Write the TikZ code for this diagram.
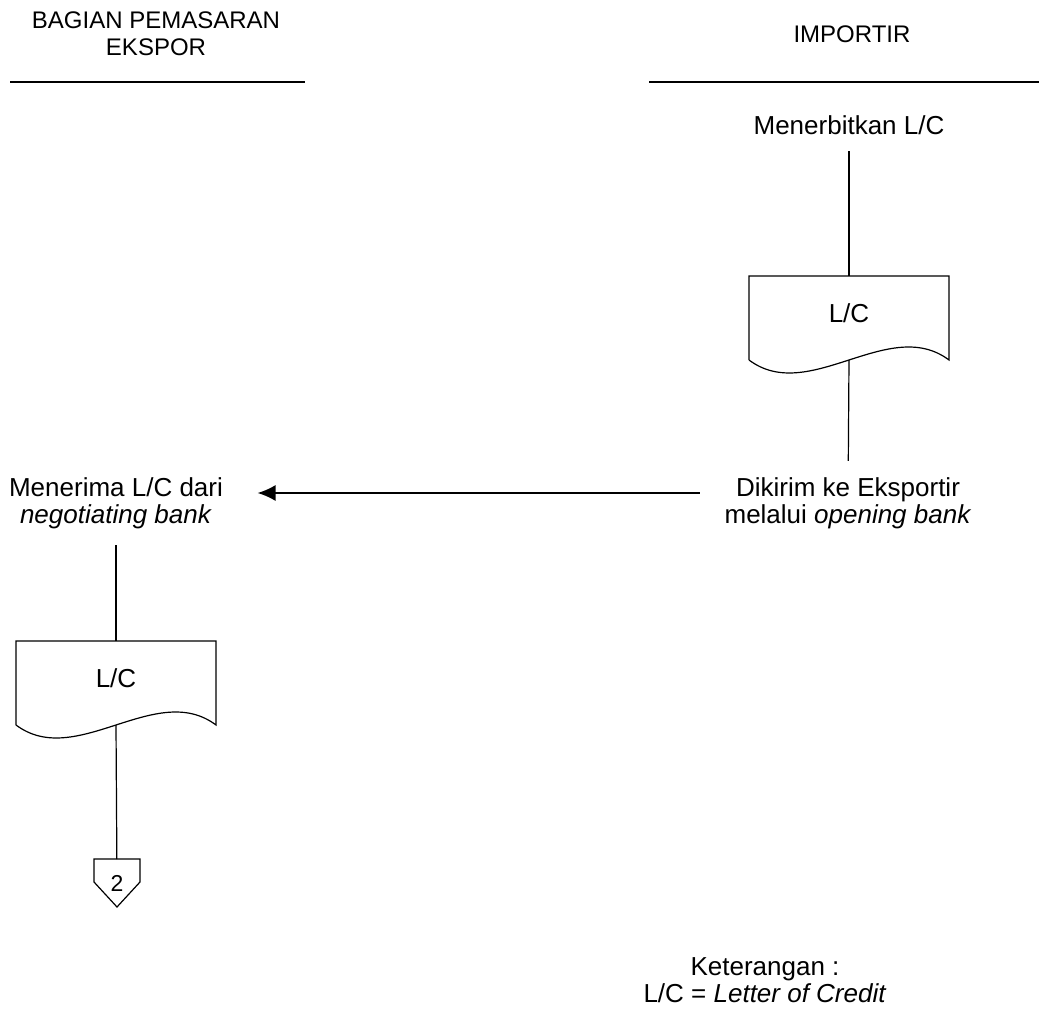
\documentclass[tikz,border=0pt]{standalone}
\usepackage{fontspec}
\setmainfont{Liberation Sans}
\usetikzlibrary{arrows.meta}

\begin{document}
\begin{tikzpicture}[
    x=0.5pt, y=-0.5pt,
    line width=0.6pt,
    every node/.style={font=\fontsize{13}{13.5}\selectfont},
    judul/.style={align=center, font=\fontsize{12}{13.5}\selectfont},
    teks/.style={align=center, inner xsep=12pt, inner ysep=8pt},
    dokumen/.style={minimum width=100pt, minimum height=42pt, inner sep=0pt, outer sep=0pt,
        text depth=5pt},
    konektor/.style={minimum width=23pt, minimum height=24pt, inner sep=0pt, outer sep=0pt,
        font=\fontsize{11.5}{12}\selectfont},
    garis/.style={line width=1pt}
]
\useasboundingbox (0,0) rectangle (1039,1010);

% kolom
\node[judul] (ekspor) at (156,34) {BAGIAN PEMASARAN\\EKSPOR};
\node[judul] (importir) at (852,34) {IMPORTIR};
\draw[garis] (10,82) -- (305,82);
\draw[garis] (649,82) -- (1039,82);

% importir
\node[teks] (terbit) at (849,125) {Menerbitkan L/C};
\node[dokumen] (docB) at (849,318) {L/C};
\node[teks] (kirim) at (848,503) {Dikirim ke Eksportir\\melalui \textit{opening bank}};

% bagian pemasaran ekspor
\node[teks] (terima) at (116,503) {Menerima L/C dari\\\textit{negotiating bank}};
\node[dokumen] (docA) at (116,683) {L/C};
\node[konektor] (hal2) at (117,883) {2};

\node[align=center] (ket) at (765,980) {Keterangan :\\L/C = \textit{Letter of Credit}};

% bentuk dokumen
\foreach \d in {docA,docB}
    \draw (\d.south west) -- (\d.north west) -- (\d.north east) -- (\d.south east)
        .. controls ([xshift=-30pt,yshift=22.5pt]\d.south east)
        and ([xshift=30pt,yshift=-22.5pt]\d.south west) .. (\d.south west);
\draw (hal2.north west) -- (hal2.north east) -- ([yshift=12.5pt]hal2.south east)
    -- (hal2.south) -- ([yshift=12.5pt]hal2.south west) -- cycle;

% alur
\draw (terbit) -- (docB);
\draw (docB.south) -- (kirim);
\draw[-{Latex[length=9pt,width=8pt]}, line width=0.9pt, shorten >=5pt]
    ([yshift=5pt]kirim.west) -- ([yshift=5pt]kirim.west -| terima.east);
\draw (terima) -- (docA);
\draw (docA.south) -- (hal2);
\end{tikzpicture}
\end{document}
